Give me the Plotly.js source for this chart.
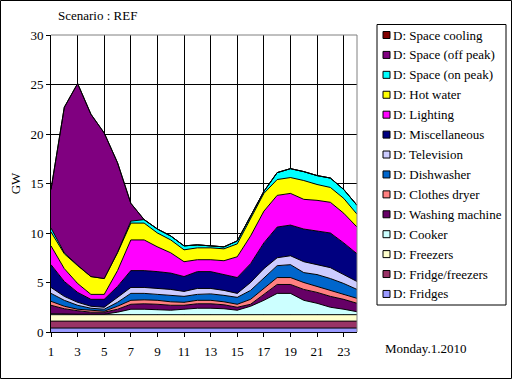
<!DOCTYPE html>
<html>
<head>
<meta charset="utf-8">
<script src="https://cdn.plot.ly/plotly-3.0.1.min.js"></script>
<style>html,body{margin:0;padding:0;background:#fff;}#chart{width:512px;height:379px;}</style>
</head>
<body>
<div id="chart"></div>
<script>
// ---- data ----
const hours = [1,2,3,4,5,6,7,8,9,10,11,12,13,14,15,16,17,18,19,20,21,22,23,24];
const seriesNames = ["D: Fridges","D: Fridge/freezers","D: Freezers","D: Cooker","D: Washing machine","D: Clothes dryer","D: Dishwasher","D: Television","D: Miscellaneous","D: Lighting","D: Hot water","D: Space (on peak)","D: Space (off peak)","D: Space cooling"];
const fridges        = [0.4,0.4,0.4,0.4,0.4,0.4,0.4,0.4,0.4,0.4,0.4,0.4,0.4,0.4,0.4,0.4,0.4,0.4,0.4,0.4,0.4,0.4,0.4,0.4];
const fridgeFreezers = [0.7,0.7,0.7,0.7,0.7,0.7,0.7,0.7,0.7,0.7,0.7,0.7,0.7,0.7,0.7,0.7,0.7,0.7,0.7,0.7,0.7,0.7,0.7,0.7];
const freezers       = [0.65,0.65,0.65,0.65,0.65,0.65,0.65,0.65,0.65,0.65,0.65,0.65,0.65,0.65,0.65,0.65,0.65,0.65,0.65,0.65,0.65,0.65,0.65,0.65];
const cooker         = [0.1,0.05,0.05,0.05,0.05,0.25,0.55,0.55,0.5,0.45,0.55,0.65,0.65,0.6,0.45,0.85,1.45,2.15,2.15,1.45,1.15,0.75,0.55,0.3];
const washing        = [0.85,0.55,0.35,0.2,0.2,0.3,0.5,0.55,0.55,0.5,0.4,0.45,0.45,0.4,0.3,0.2,0.6,0.9,0.9,1.1,1.1,1.1,1.0,0.85];
const clothesDryer   = [0.4,0.25,0.15,0.2,0.1,0.3,0.4,0.4,0.4,0.35,0.3,0.35,0.35,0.3,0.3,0.5,0.6,0.7,0.7,0.7,0.6,0.6,0.5,0.5];
const dishwasher     = [0.8,0.6,0.4,0.2,0.2,0.4,0.7,0.65,0.6,0.65,0.6,0.6,0.65,0.65,0.7,0.9,1.0,1.2,1.3,1.0,1.2,1.2,1.1,0.9];
const television     = [0.6,0.4,0.3,0.2,0.2,0.5,0.6,0.6,0.6,0.6,0.5,0.6,0.55,0.5,0.4,0.8,1.0,0.8,0.9,1.1,1.0,1.1,0.9,0.8];
const misc           = [2.3,1.5,1.0,0.7,0.8,1.1,1.7,1.7,1.7,1.65,1.5,1.7,1.7,1.6,1.6,1.9,2.6,3.1,3.1,3.3,3.4,3.5,3.2,2.8];
const lighting       = [1.9,1.3,0.9,0.5,0.5,1.6,3.1,3.1,2.5,2.05,1.5,1.2,1.2,1.4,2.1,2.8,3.2,3.2,3.2,3.0,3.1,3.1,3.0,2.7];
const hotWater       = [1.4,1.5,1.8,1.8,1.6,1.8,1.7,1.7,1.4,1.3,1.2,1.2,1.2,1.2,1.3,1.8,1.8,1.6,1.6,1.9,1.6,1.5,1.5,1.3];
const spaceOnPeak    = [0.4,0.1,0.05,0,0,0.05,0.2,0.35,0.4,0.4,0.4,0.3,0.2,0.2,0.3,0.2,0.2,0.7,0.9,0.9,0.9,0.95,0.9,0.9];
const spaceOffPeak   = [3.9,14.7,18.35,16.4,14.7,9.05,1.8,0,0,0,0,0,0,0,0,0,0,0,0,0,0,0,0,0];
const spaceCooling   = [0,0,0,0,0,0,0,0,0,0,0,0,0,0,0,0,0,0,0,0,0,0,0,0];
const yTicks = [0,5,10,15,20,25,30];
const xTicks = [1,3,5,7,9,11,13,15,17,19,21,23];

// ---- styles ----
const seriesValues = [fridges,fridgeFreezers,freezers,cooker,washing,clothesDryer,dishwasher,television,misc,lighting,hotWater,spaceOnPeak,spaceOffPeak,spaceCooling];
const colors = ["#9999FF","#993366","#FFFFCC","#CCFFFF","#660066","#FF8080","#0066CC","#CCCCFF","#000080","#FF00FF","#FFFF00","#00FFFF","#800080","#800000"];
const FONT = "Liberation Serif, Times New Roman, serif";

const W = 512, H = 379;
const L = 51, R = 357, T = 35, B = 332;
const px = x => (x - L) / (R - L);
const py = y => (B - y) / (B - T);

const traces = seriesValues.map((vals, i) => ({
  type: 'scatter', mode: 'lines', x: hours, y: vals, name: seriesNames[i],
  stackgroup: 'one', line: {color: '#000000', width: 1}, fillcolor: colors[i],
  showlegend: false, hoverinfo: 'skip'
}));

const shapes = [
  {type:'line', xref:'paper', yref:'paper', x0:0, x1:1, y0:1, y1:1, line:{color:'#808080', width:1}, layer:'above'},
  {type:'line', xref:'paper', yref:'paper', x0:1, x1:1, y0:0, y1:1, line:{color:'#808080', width:1}, layer:'above'},
  {type:'rect', xref:'paper', yref:'paper', x0:px(0.5), x1:px(511.5), y0:py(0.5), y1:py(378.5), line:{color:'#000000', width:1}, fillcolor:'rgba(0,0,0,0)'},
  {type:'rect', xref:'paper', yref:'paper', x0:px(377), x1:px(506), y0:py(24.5), y1:py(305), line:{color:'#000000', width:1}, fillcolor:'#ffffff'}
];
const annotations = [
  {text:'Scenario : REF', xref:'paper', yref:'paper', x:px(56), y:py(15), xanchor:'left', yanchor:'middle', showarrow:false, font:{family:FONT, size:13, color:'#000'}},
  {text:'Monday.1.2010', xref:'paper', yref:'paper', x:px(383), y:py(348), xanchor:'left', yanchor:'middle', showarrow:false, font:{family:FONT, size:13, color:'#000'}}
];
// legend (top item = last series)
const n = seriesNames.length;
for (let k = 0; k < n; k++) {
  const i = n - 1 - k;
  const cy = 35 + k * 19.92;
  shapes.push({type:'rect', xref:'paper', yref:'paper', x0:px(383), x1:px(390), y0:py(cy+3.5), y1:py(cy-3.5), line:{color:'#000000', width:1}, fillcolor:colors[i]});
  annotations.push({text:seriesNames[i], xref:'paper', yref:'paper', x:px(391), y:py(cy), xanchor:'left', yanchor:'middle', showarrow:false, font:{family:FONT, size:13, color:'#000'}});
}

const layout = {
  width: W, height: H,
  margin: {l: L, r: W - R, t: T, b: H - B, pad: 0},
  paper_bgcolor: '#ffffff', plot_bgcolor: '#ffffff',
  showlegend: false,
  font: {family: FONT, size: 13, color: '#000'},
  xaxis: {range: [1, 24], tickvals: xTicks, ticktext: xTicks.map(String), ticks: 'outside', ticklen: 4, tickcolor: '#000',
          ticklabelstandoff: 3,
          showgrid: true, gridcolor: '#000', gridwidth: 1, showline: true, linecolor: '#000', linewidth: 1, zeroline: false,
          tickfont: {family: FONT, size: 13, color: '#000'}, fixedrange: true},
  yaxis: {range: [0, 30], tickvals: yTicks, ticktext: yTicks.map(String), ticks: 'outside', ticklen: 4, tickcolor: '#000',
          showgrid: true, gridcolor: '#000', gridwidth: 1, showline: true, linecolor: '#000', linewidth: 1, zeroline: false,
          tickfont: {family: FONT, size: 13, color: '#000'}, fixedrange: true,
          title: {text: 'GW', font: {family: FONT, size: 13, color: '#000'}, standoff: 6}},
  shapes: shapes,
  annotations: annotations
};
Plotly.newPlot('chart', traces, layout, {staticPlot: true, displayModeBar: false});
</script>
</body>
</html>
